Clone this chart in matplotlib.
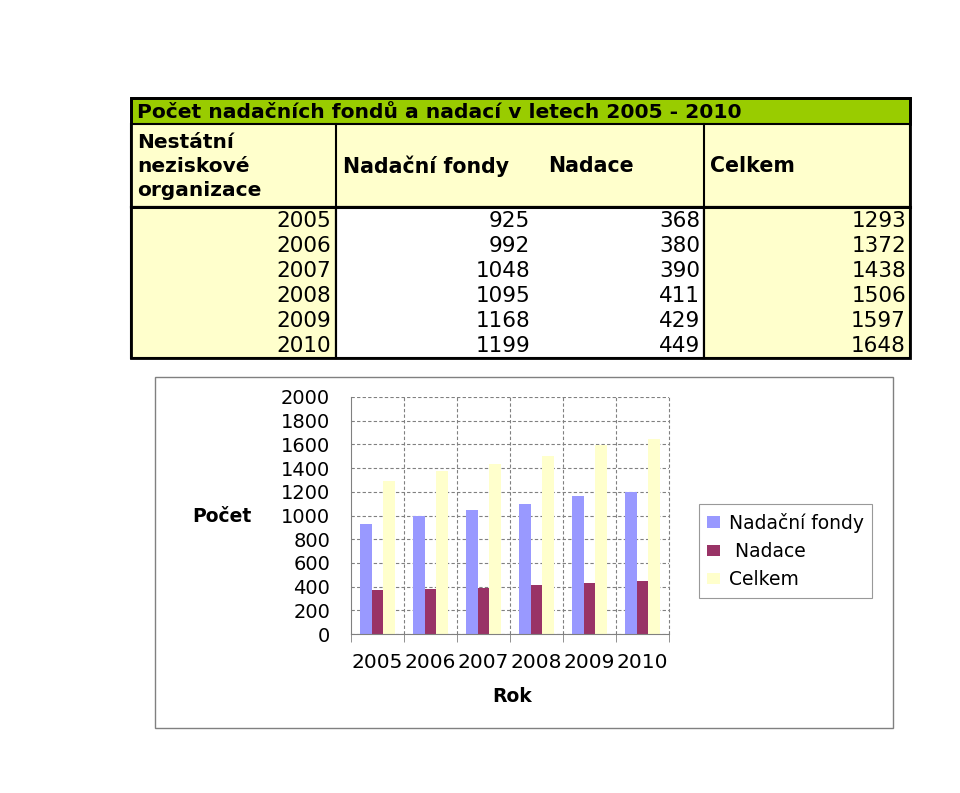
import matplotlib.pyplot as plt
from matplotlib.patches import Rectangle
import numpy as np

plt.rcParams['font.family'] = 'DejaVu Sans'

# data
roky = ['2005', '2006', '2007', '2008', '2009', '2010']
nadacni_fondy = [925, 992, 1048, 1095, 1168, 1199]
nadace = [368, 380, 390, 411, 429, 449]
celkem = [1293, 1372, 1438, 1506, 1597, 1648]
nazvy = ['Nadační fondy', ' Nadace', 'Celkem']
barvy = ['#9999FF', '#993366', '#FFFFCC']

W, H = 960, 793

fig = plt.figure(figsize=(9.6, 7.93), dpi=100)
bg = fig.add_axes([0, 0, 1, 1])
bg.set_xlim(0, W)
bg.set_ylim(H, 0)
bg.axis('off')

# ---------------- table ----------------
x0, x1, x2, x3, x4 = 131, 336, 536, 704, 910
y_title, y_head, y_data, y_end = 98, 124, 207, 358
row_h = (y_end - y_data) / len(roky)
yellow = '#FFFFCC'

bg.add_patch(Rectangle((x0, y_title), x4 - x0, y_head - y_title, fc='#99CC00', ec='black', lw=2))
bg.add_patch(Rectangle((x0, y_head), x4 - x0, y_data - y_head, fc=yellow, ec='black', lw=1.5))
bg.add_patch(Rectangle((x0, y_data), x1 - x0, y_end - y_data, fc=yellow, ec='black', lw=1.5))
bg.add_patch(Rectangle((x1, y_data), x3 - x1, y_end - y_data, fc='white', ec='black', lw=1.5))
bg.add_patch(Rectangle((x3, y_data), x4 - x3, y_end - y_data, fc=yellow, ec='black', lw=1.5))
bg.plot([x1, x1], [y_head, y_end], color='black', lw=1.5)
bg.plot([x3, x3], [y_head, y_end], color='black', lw=1.5)
bg.plot([x0, x4], [y_data, y_data], color='black', lw=2.2)
bg.add_patch(Rectangle((x0, y_title), x4 - x0, y_end - y_title, fc='none', ec='black', lw=2))

bg.text(x0 + 6, (y_title + y_head) / 2 + 2, 'Počet nadačních fondů a nadací v letech 2005 - 2010',
        fontsize=14.6, fontweight='bold', va='center', ha='left')
bg.text(x0 + 6, (y_head + y_data) / 2 + 1, 'Nestátní\nneziskové\norganizace', fontsize=14.5,
        fontweight='bold', va='center', ha='left', linespacing=1.3)
hy = (y_head + y_data) / 2 + 1
bg.text(x1 + 7, hy, nazvy[0], fontsize=14.8, fontweight='bold', va='center')
bg.text(x2 + 12, hy, nazvy[1].strip(), fontsize=14.8, fontweight='bold', va='center')
bg.text(x3 + 6, hy, nazvy[2], fontsize=14.8, fontweight='bold', va='center')

for i in range(len(roky)):
    yy = y_data + row_h * (i + 0.5) + 1
    bg.text(x1 - 5, yy, roky[i], fontsize=15.5, ha='right', va='center')
    bg.text(x2 - 6, yy, str(nadacni_fondy[i]), fontsize=15.5, ha='right', va='center')
    bg.text(x3 - 4, yy, str(nadace[i]), fontsize=15.5, ha='right', va='center')
    bg.text(x4 - 4, yy, str(celkem[i]), fontsize=15.5, ha='right', va='center')

# ---------------- chart ----------------
bg.add_patch(Rectangle((155, 377), 738, 351, fc='white', ec='#808080', lw=1))

ax = fig.add_axes([351 / W, 1 - 634 / H, 318 / W, 237 / H])
x = np.arange(len(roky))
w = 1 / 4.5
for k, (vals, c) in enumerate(zip([nadacni_fondy, nadace, celkem], barvy)):
    ax.bar(x + (k - 1) * w, vals, w, color=c, label=nazvy[k], zorder=3)

ax.set_xlim(-0.5, len(roky) - 0.5)
ax.set_ylim(0, 2000)
ax.set_yticks(range(0, 2001, 200))
ax.set_xticks(x)
ax.set_xticklabels(roky, fontsize=14.5)
ax.set_xticks(np.arange(-0.5, len(roky), 1), minor=True)
ax.tick_params(axis='x', which='major', length=0, pad=14)
ax.tick_params(axis='x', which='minor', length=6, color='#808080')
ax.tick_params(axis='y', length=0, labelsize=14, pad=15)
ax.grid(True, axis='y', linestyle=(0, (3, 2)), color='#808080', lw=0.8, zorder=0)
for xv in np.arange(0.5, len(roky), 1):
    ax.axvline(xv, linestyle=(0, (3, 2)), color='#808080', lw=0.8, zorder=0, clip_on=False)
for s in ['top', 'right']:
    ax.spines[s].set_visible(False)
ax.spines['left'].set_color('#808080')
ax.spines['bottom'].set_color('#808080')
ax.spines['bottom'].set_zorder(4)

bg.text(222, 516, 'Počet', fontsize=13.5, fontweight='bold', ha='center', va='center')
bg.text(512, 697, 'Rok', fontsize=13.5, fontweight='bold', ha='center', va='center')

leg = ax.legend(loc='center left', bbox_to_anchor=((699 - 351) / 318, (634 - 551) / 237),
                fontsize=13.5, frameon=True, fancybox=False, edgecolor='#808080',
                handlelength=0.65, handleheight=0.55, handletextpad=0.5,
                labelspacing=0.5, borderpad=0.45, borderaxespad=0)
leg.get_frame().set_linewidth(0.8)

fig.savefig('out.png', dpi=100)
